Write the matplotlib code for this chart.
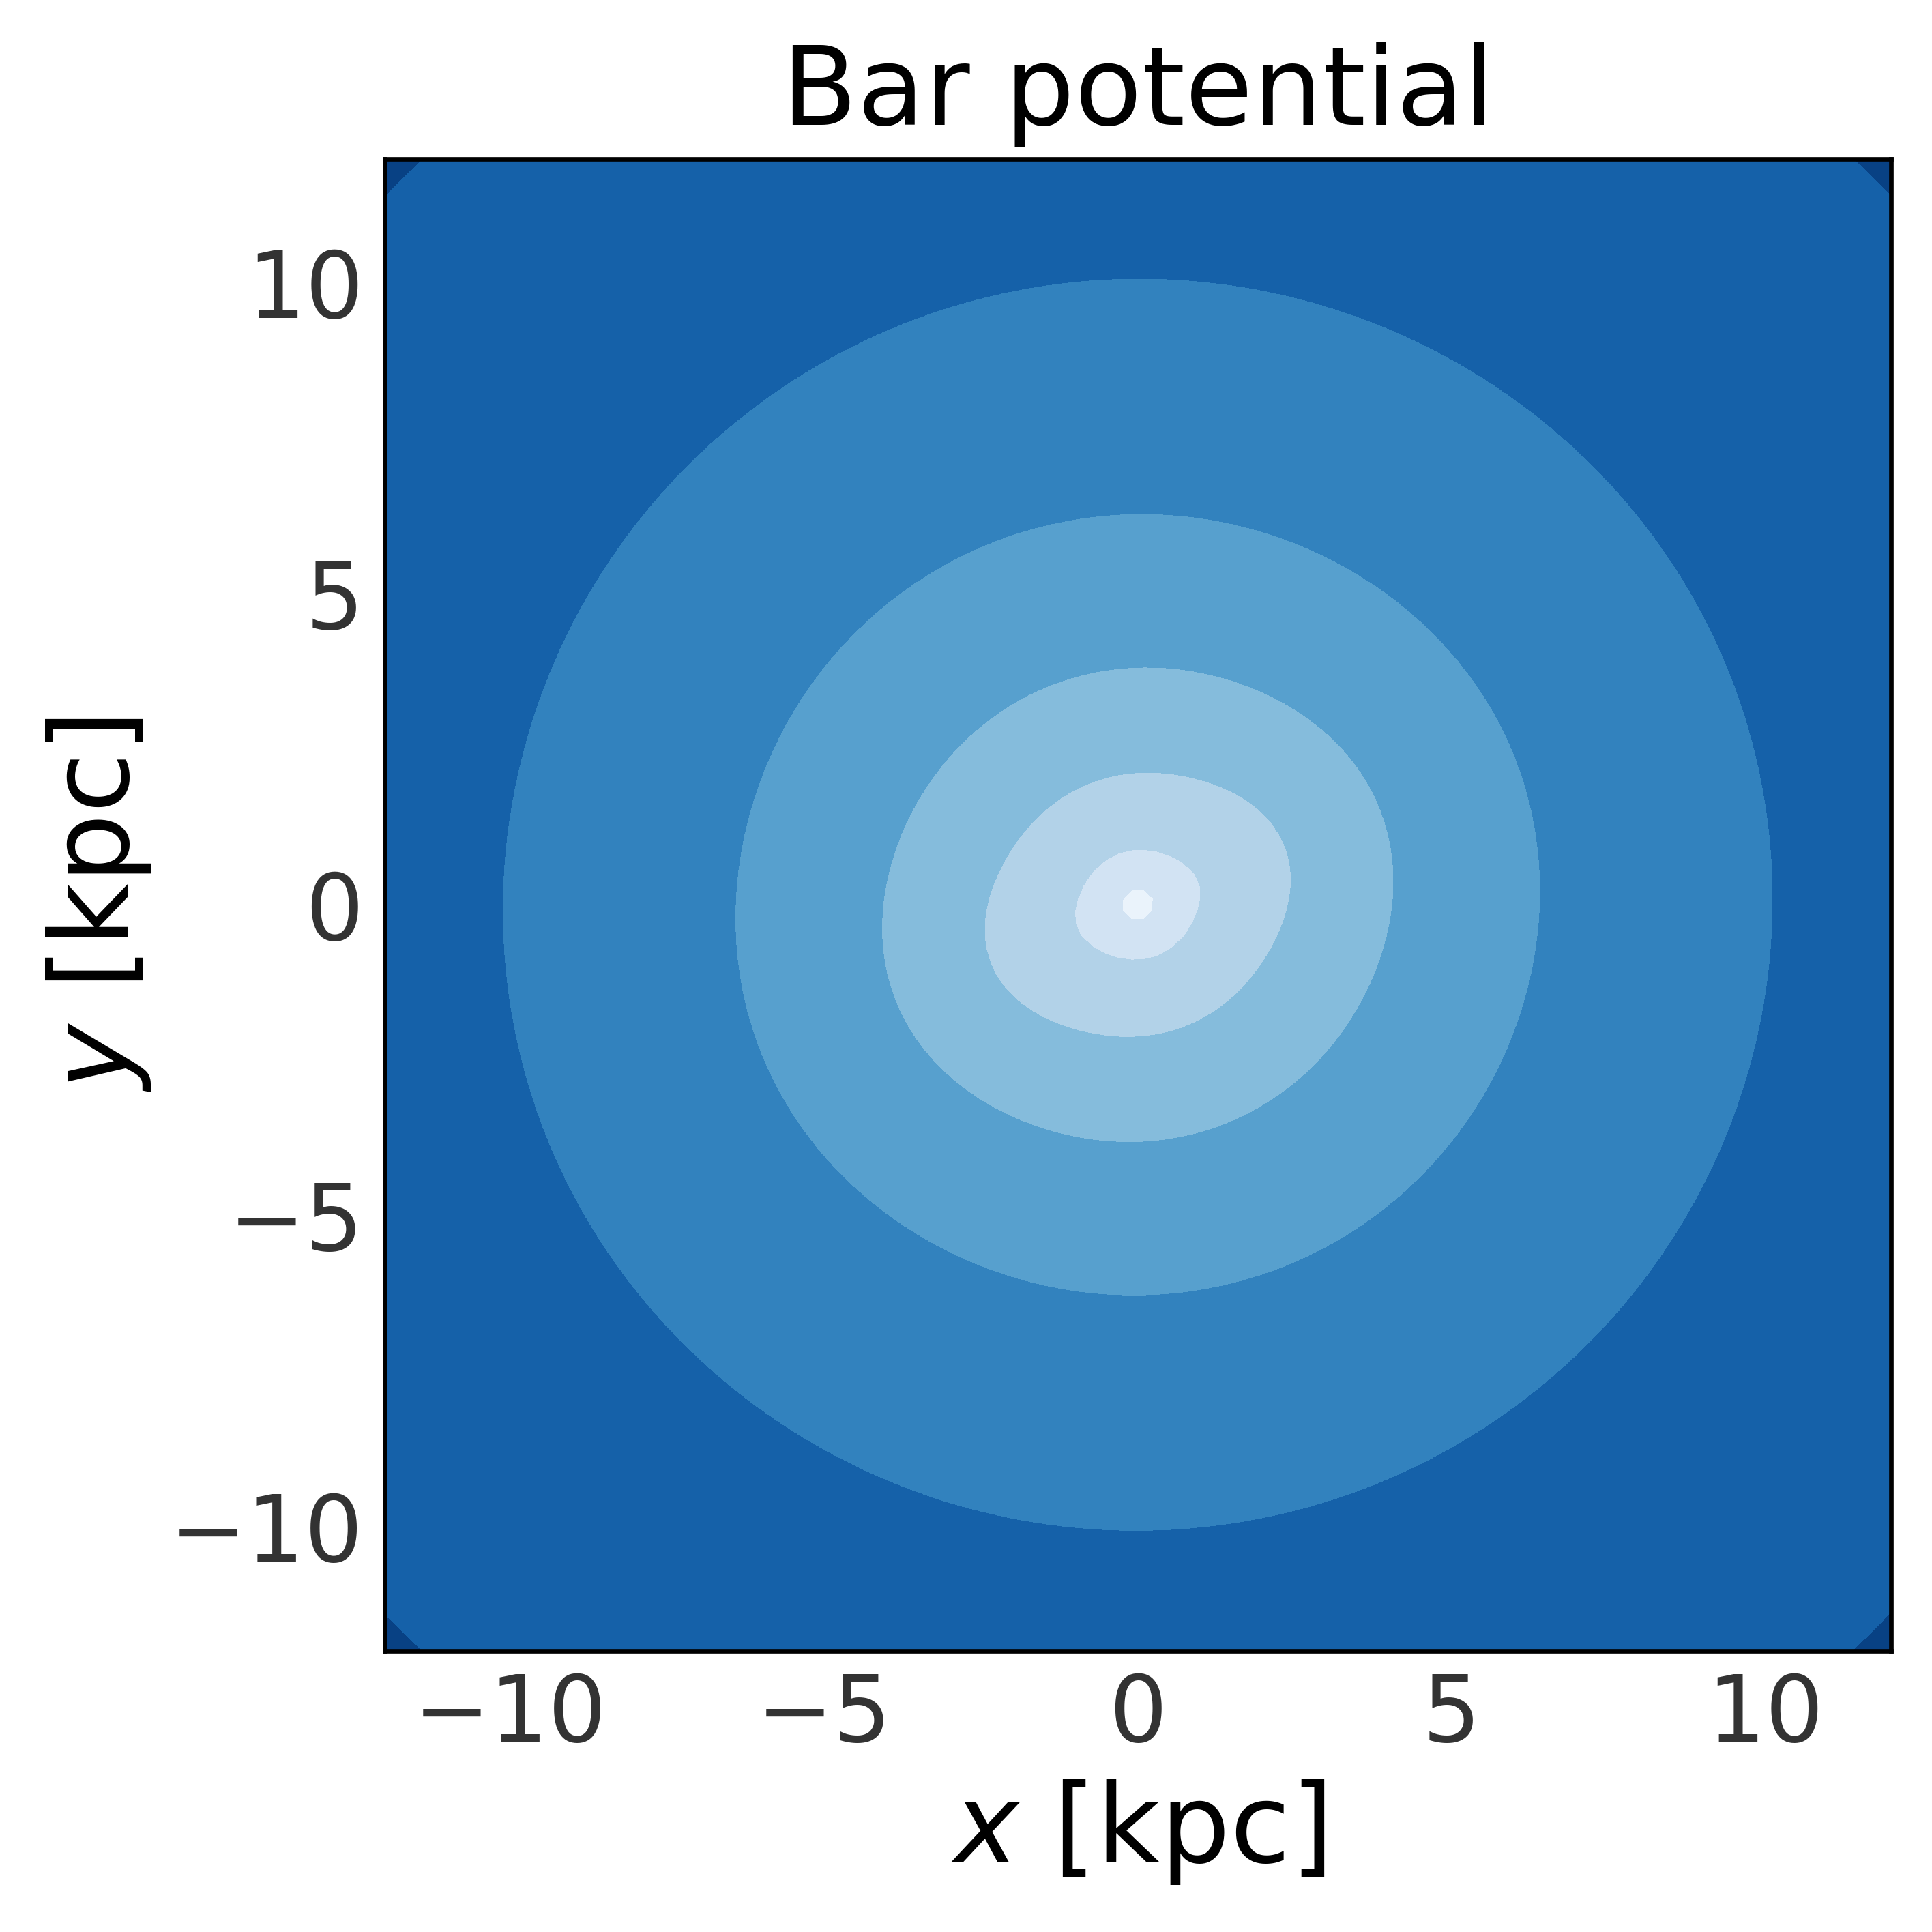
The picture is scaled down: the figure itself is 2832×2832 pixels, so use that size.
import numpy as np
import matplotlib
matplotlib.use('Agg')
import matplotlib.pyplot as plt

# grid extent (kpc) and resolution
extent = [-12.0, 12.0]
n_grid = 120

# axisymmetric part: cored NFW-like halo + compact nuclear well
halo_mass = 30.86
halo_scale = 3.0
halo_core = 1.0
nucleus_depth = 0.902
nucleus_width = 0.35

# bar part: peaked angular profile exp(k cos 2phi), zero mean
bar_strength = 0.85
bar_scale = 3.2
bar_sharpness = 1.0
bar_angle_deg = 23.0

# filled contour levels
contour_levels = [-10.511, -9.508, -8.505, -7.502, -6.500, -5.497, -4.494, -3.491, -2.488]

ticks = [-10, -5, 0, 5, 10]

x = np.linspace(extent[0], extent[1], n_grid)
y = np.linspace(extent[0], extent[1], n_grid)
X, Y = np.meshgrid(x, y)
R2 = X**2 + Y**2
phi = np.arctan2(Y, X) - np.radians(bar_angle_deg)

s_halo = np.sqrt(R2 + halo_core**2)
pot_halo = -halo_mass * np.log(1 + s_halo / halo_scale) / s_halo
pot_nuc = -nucleus_depth * np.exp(-R2 / (2 * nucleus_width**2))

u = R2 / bar_scale**2
ang = np.exp(bar_sharpness * np.cos(2 * phi)) - np.i0(bar_sharpness)
pot_bar = -bar_strength * u / (1 + u)**3 * ang

pot = pot_halo + pot_nuc + pot_bar

fig = plt.figure(figsize=(2832 / 300, 2832 / 300), dpi=300)
ax = fig.add_axes([0.1990, 0.1455, 0.7798, 0.7724])

ax.contourf(X, Y, pot, levels=contour_levels, cmap='Blues')

ax.set_xlim(extent)
ax.set_ylim(extent)
ax.set_xticks(ticks)
ax.set_yticks(ticks)
ax.tick_params(length=0, pad=7.3, labelsize=32.3, labelcolor='#333333')
for sp in ax.spines.values():
    sp.set_color('black')
    sp.set_linewidth(1.6)

ax.set_xlabel('$x$ [kpc]', fontsize=38.7, labelpad=6)
ax.set_ylabel('$y$ [kpc]', fontsize=38.7, labelpad=6)
ax.set_title('Bar potential', fontsize=38.7, pad=12)

fig.savefig('out.png', dpi=300)
